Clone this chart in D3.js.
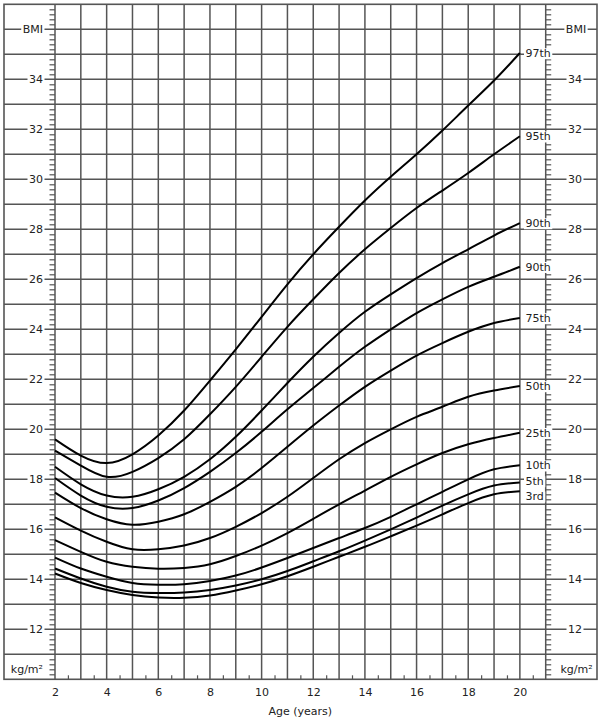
<!DOCTYPE html>
<html>
<head>
<meta charset="utf-8">
<script src="https://cdn.jsdelivr.net/npm/d3@7"></script>
<style>
  body { margin: 0; background: #fff; }
  svg { display: block; font-family: "DejaVu Sans", Verdana, sans-serif; }
</style>
</head>
<body>
<script>
// --- data ---
const ages = [2, 3, 4, 5, 6, 7, 8, 9, 10, 11, 12, 13, 14, 15, 16, 17, 18, 19, 20];

const p97 = [19.6, 18.95, 18.65, 19.0, 19.75, 20.75, 21.95, 23.2, 24.5, 25.8, 27.0, 28.1, 29.15, 30.1, 31.0, 31.95, 32.95, 33.95, 35.05];
const p95 = [19.15, 18.55, 18.1, 18.3, 18.85, 19.6, 20.6, 21.7, 22.9, 24.1, 25.2, 26.25, 27.2, 28.05, 28.85, 29.55, 30.25, 31.0, 31.72];
const p90 = [18.5, 17.8, 17.35, 17.3, 17.6, 18.1, 18.8, 19.7, 20.75, 21.85, 22.9, 23.85, 24.7, 25.4, 26.05, 26.65, 27.2, 27.75, 28.25];
const p85 = [18.05, 17.35, 16.9, 16.85, 17.15, 17.65, 18.3, 19.05, 19.9, 20.8, 21.65, 22.5, 23.3, 24.0, 24.65, 25.2, 25.7, 26.1, 26.5];
const p75 = [17.47, 16.85, 16.4, 16.18, 16.3, 16.6, 17.1, 17.7, 18.45, 19.3, 20.15, 20.95, 21.7, 22.35, 22.95, 23.45, 23.9, 24.25, 24.45];
const p50 = [16.48, 15.95, 15.5, 15.2, 15.2, 15.35, 15.65, 16.1, 16.65, 17.3, 18.05, 18.8, 19.45, 20.0, 20.5, 20.9, 21.3, 21.55, 21.73];
const p25 = [15.57, 15.1, 14.7, 14.5, 14.42, 14.45, 14.6, 14.93, 15.35, 15.85, 16.42, 17.0, 17.55, 18.1, 18.6, 19.05, 19.4, 19.65, 19.86];
const p10 = [14.87, 14.43, 14.1, 13.85, 13.78, 13.8, 13.93, 14.15, 14.47, 14.85, 15.25, 15.65, 16.05, 16.5, 17.0, 17.5, 18.0, 18.4, 18.56];
const p5  = [14.43, 14.03, 13.7, 13.5, 13.45, 13.47, 13.57, 13.75, 14.0, 14.33, 14.72, 15.12, 15.55, 16.0, 16.47, 16.95, 17.4, 17.75, 17.87];
const p3  = [14.23, 13.85, 13.57, 13.37, 13.27, 13.26, 13.35, 13.55, 13.8, 14.12, 14.5, 14.9, 15.3, 15.72, 16.15, 16.6, 17.05, 17.4, 17.52];

// labels as printed on the chart (the second "90th" is really the 85th)
const curveLabels = ["97th", "95th", "90th", "90th", "75th", "50th", "25th", "10th", "5th", "3rd"];
const curves = [p97, p95, p90, p85, p75, p50, p25, p10, p5, p3];

const bmiTicks = [12, 14, 16, 18, 20, 22, 24, 26, 28, 30, 32, 34];
const ageTicks = [2, 4, 6, 8, 10, 12, 14, 16, 18, 20];

// --- layout ---
const W = 604, H = 725;
const frame = {left: 4, right: 597, top: 4.3, bottom: 679.3};
const plot = {left: 55, right: 545.7};
const gridColor = "#555";
const textColor = "#222";

const svg = d3.select("body").append("svg")
  .attr("width", W)
  .attr("height", H);

const x = d3.scaleLinear().domain([2, 21]).range([plot.left, plot.right]);
const y = d3.scaleLinear().domain([10, 37]).range([frame.bottom, frame.top]);

// --- grid: one line per BMI unit, one per year ---
svg.append("g")
  .selectAll("line")
  .data(d3.range(11, 37))
  .join("line")
    .attr("x1", frame.left).attr("x2", frame.right)
    .attr("y1", d => y(d)).attr("y2", d => y(d))
    .attr("stroke", gridColor).attr("stroke-width", 1.5);

svg.append("g")
  .selectAll("line")
  .data(d3.range(2, 22))
  .join("line")
    .attr("x1", d => x(d)).attr("x2", d => x(d))
    .attr("y1", frame.top).attr("y2", frame.bottom)
    .attr("stroke", gridColor).attr("stroke-width", 1.5);

svg.append("rect")
  .attr("x", frame.left).attr("y", frame.top)
  .attr("width", frame.right - frame.left)
  .attr("height", frame.bottom - frame.top)
  .attr("fill", "none")
  .attr("stroke", gridColor).attr("stroke-width", 1.6);

// --- minor ticks ---
const minorBmi = d3.range(10, 37.001, 0.2).filter(v => Math.abs(v - Math.round(v)) > 0.01);
const halfYears = d3.range(2.5, 21, 1);

const styleTicks = g => {
  g.select(".domain").remove();
  g.selectAll(".tick line").attr("stroke", gridColor).attr("stroke-width", 1.2);
};

svg.append("g")
  .attr("transform", `translate(${plot.left},0)`)
  .call(d3.axisLeft(y).tickValues(minorBmi).tickSize(5.5).tickFormat(""))
  .call(styleTicks);

svg.append("g")
  .attr("transform", `translate(${plot.right},0)`)
  .call(d3.axisRight(y).tickValues(minorBmi).tickSize(5.5).tickFormat(""))
  .call(styleTicks);

svg.append("g")
  .attr("transform", `translate(0,${frame.bottom})`)
  .call(d3.axisTop(x).tickValues(halfYears).tickSize(4).tickFormat(""))
  .call(styleTicks);

// --- age labels ---
svg.append("g")
  .attr("transform", `translate(0,${frame.bottom})`)
  .call(d3.axisBottom(x).tickValues(ageTicks).tickSize(0).tickPadding(9))
  .call(g => g.select(".domain").remove())
  .call(g => g.selectAll("text")
    .attr("font-family", "DejaVu Sans")
    .attr("font-size", 11)
    .attr("fill", textColor));

svg.append("text")
  .attr("x", (plot.left + plot.right) / 2)
  .attr("y", 715)
  .attr("text-anchor", "middle")
  .attr("font-size", 11)
  .attr("fill", textColor)
  .text("Age (years)");

// --- BMI labels on both sides, sitting on white boxes over the grid ---
function boxedLabel(g, tx, ty, str, anchor) {
  const t = g.append("text")
    .attr("x", tx).attr("y", ty)
    .attr("dy", "0.38em")
    .attr("text-anchor", anchor)
    .attr("font-size", 11)
    .attr("fill", textColor)
    .text(str);
  const b = t.node().getBBox();
  g.insert("rect", "text")
    .attr("x", b.x - 1.5).attr("y", b.y + 1)
    .attr("width", b.width + 3).attr("height", b.height - 2)
    .attr("fill", "#fff");
}

const leftLabels = svg.append("g");
const rightLabels = svg.append("g");
bmiTicks.forEach(v => {
  boxedLabel(leftLabels.append("g"), 43, y(v), String(v), "end");
  boxedLabel(rightLabels.append("g"), 575, y(v), String(v), "middle");
});
boxedLabel(leftLabels.append("g"), 43, y(36), "BMI", "end");
boxedLabel(rightLabels.append("g"), 576, y(36), "BMI", "middle");
boxedLabel(leftLabels.append("g"), 43, y(10.4), "kg/m\u00b2", "end");
boxedLabel(rightLabels.append("g"), 576.5, y(10.4), "kg/m\u00b2", "middle");

// --- percentile curves ---
const line = d3.line()
  .x((d, i) => x(ages[i]))
  .y(d => y(d))
  .curve(d3.curveNatural);

svg.append("g")
  .selectAll("path")
  .data(curves)
  .join("path")
    .attr("d", line)
    .attr("fill", "none")
    .attr("stroke", "#000")
    .attr("stroke-width", 2)
    .attr("stroke-linejoin", "round");

// end labels, nudged where the lowest curves crowd together
const nudge = {8: -1.5, 9: 5};
const endLabels = svg.append("g");
curves.forEach((c, i) => {
  const ly = y(c[c.length - 1]) + (nudge[i] || 0);
  boxedLabel(endLabels.append("g"), 525.5, ly, curveLabels[i], "start");
});
</script>
</body>
</html>
